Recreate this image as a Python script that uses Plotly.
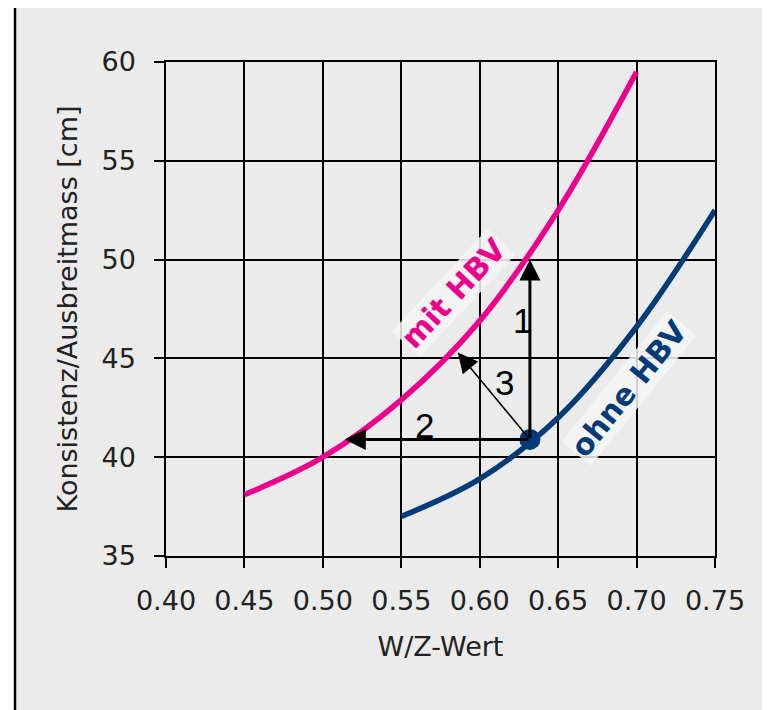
import plotly.graph_objects as go

# Data
mit_x = [0.45, 0.50, 0.55, 0.60, 0.65, 0.70]
mit_y = [38.1, 40.0, 42.9, 46.9, 52.5, 59.5]
ohne_x = [0.55, 0.60, 0.65, 0.70, 0.75]
ohne_y = [37.0, 38.9, 42.0, 46.6, 52.5]
point_x = [0.632]
point_y = [40.9]
x_ticks = [0.40, 0.45, 0.50, 0.55, 0.60, 0.65, 0.70, 0.75]
x_tick_labels = ["0.40", "0.45", "0.50", "0.55", "0.60", "0.65", "0.70", "0.75"]
y_ticks = [35, 40, 45, 50, 55, 60]
# arrows: tip positions and label positions
arrow_names = ["1", "2", "3"]
arrow_tip_x = [0.632, 0.514, 0.586]
arrow_tip_y = [50.0, 40.9, 45.3]
arrow_label_x = [0.6275, 0.565, 0.616]
arrow_label_y = [46.9, 41.6, 43.8]

PINK = "#ec008c"
NAVY = "#033a78"
BG = "#ebebeb"
FONT = "DejaVu Sans"

fig = go.Figure()
fig.add_trace(go.Scatter(x=mit_x, y=mit_y, mode="lines", line=dict(color=PINK, width=5.5, shape="spline"),
                         showlegend=False, hoverinfo="skip"))
fig.add_trace(go.Scatter(x=ohne_x, y=ohne_y, mode="lines", line=dict(color=NAVY, width=5.5, shape="spline"),
                         showlegend=False, hoverinfo="skip"))

# arrows
widths = [3, 3, 1.6]
sizes = [1.4, 1.4, 2.5]
for i in range(3):
    fig.add_annotation(x=arrow_tip_x[i], y=arrow_tip_y[i], ax=point_x[0], ay=point_y[0],
                       xref="x", yref="y", axref="x", ayref="y", text="", showarrow=True,
                       arrowhead=2, arrowsize=sizes[i], arrowwidth=widths[i], arrowcolor="#000000",
                       standoff=0, startstandoff=0)
    fig.add_annotation(x=arrow_label_x[i], y=arrow_label_y[i], text=arrow_names[i], showarrow=False,
                       font=dict(family="Liberation Sans", size=35, color="#000000"))

fig.add_trace(go.Scatter(x=point_x, y=point_y, mode="markers", marker=dict(color=NAVY, size=21),
                         showlegend=False, hoverinfo="skip"))

fig.add_annotation(x=0.583, y=48.3, text="<b>mit HBV</b>", showarrow=False, textangle=-47,
                   font=dict(family=FONT, size=30, color=PINK), bgcolor="rgba(246,246,246,0.85)")
fig.add_annotation(x=0.695, y=43.5, text="<b>ohne HBV</b>", showarrow=False, textangle=-51,
                   font=dict(family=FONT, size=30, color=NAVY), bgcolor="rgba(246,246,246,0.85)")

W = 549.0
H = 494.0
L = 158.0
T = 54.0
def px(xp):
    return (xp - 8 - L) / W
def py(yp):
    return 1 - (yp - 8 - T) / H

fig.add_shape(type="rect", xref="paper", yref="paper", x0=px(14), x1=px(790), y0=py(730), y1=py(5),
              fillcolor=BG, line=dict(width=0), layer="below")
fig.add_shape(type="line", xref="paper", yref="paper", x0=px(15), x1=px(15), y0=py(730), y1=py(4),
              line=dict(color="#000000", width=2.5), layer="below")
fig.add_shape(type="line", xref="paper", yref="paper", x0=px(14), x1=px(790), y0=py(5), y1=py(5),
              line=dict(color="#8a8a8a", width=2), layer="below")

axis_common = dict(showgrid=True, gridcolor="#000000", gridwidth=1.5, showline=True, linecolor="#000000",
                   linewidth=1.5, mirror=True, zeroline=False, ticks="outside", ticklen=10, tickwidth=1.5,
                   tickcolor="#000000", tickfont=dict(family=FONT, size=27, color="#222222"))
fig.update_xaxes(range=[0.40, 0.75], tickvals=x_ticks, ticktext=x_tick_labels, ticklabelstandoff=10,
                 title=dict(text="W/Z-Wert", font=dict(family=FONT, size=27, color="#222222"), standoff=22),
                 **axis_common)
fig.update_yaxes(range=[35, 60], tickvals=y_ticks, ticklabelstandoff=13,
                 title=dict(text="Konsistenz/Ausbreitmass [cm]", font=dict(family=FONT, size=27, color="#222222"),
                            standoff=16),
                 **axis_common)

fig.update_layout(width=770, height=710, paper_bgcolor="#ffffff", plot_bgcolor="rgba(0,0,0,0)",
                  margin=dict(l=158, r=63, t=54, b=162), showlegend=False)

fig.write_html("out.html")
